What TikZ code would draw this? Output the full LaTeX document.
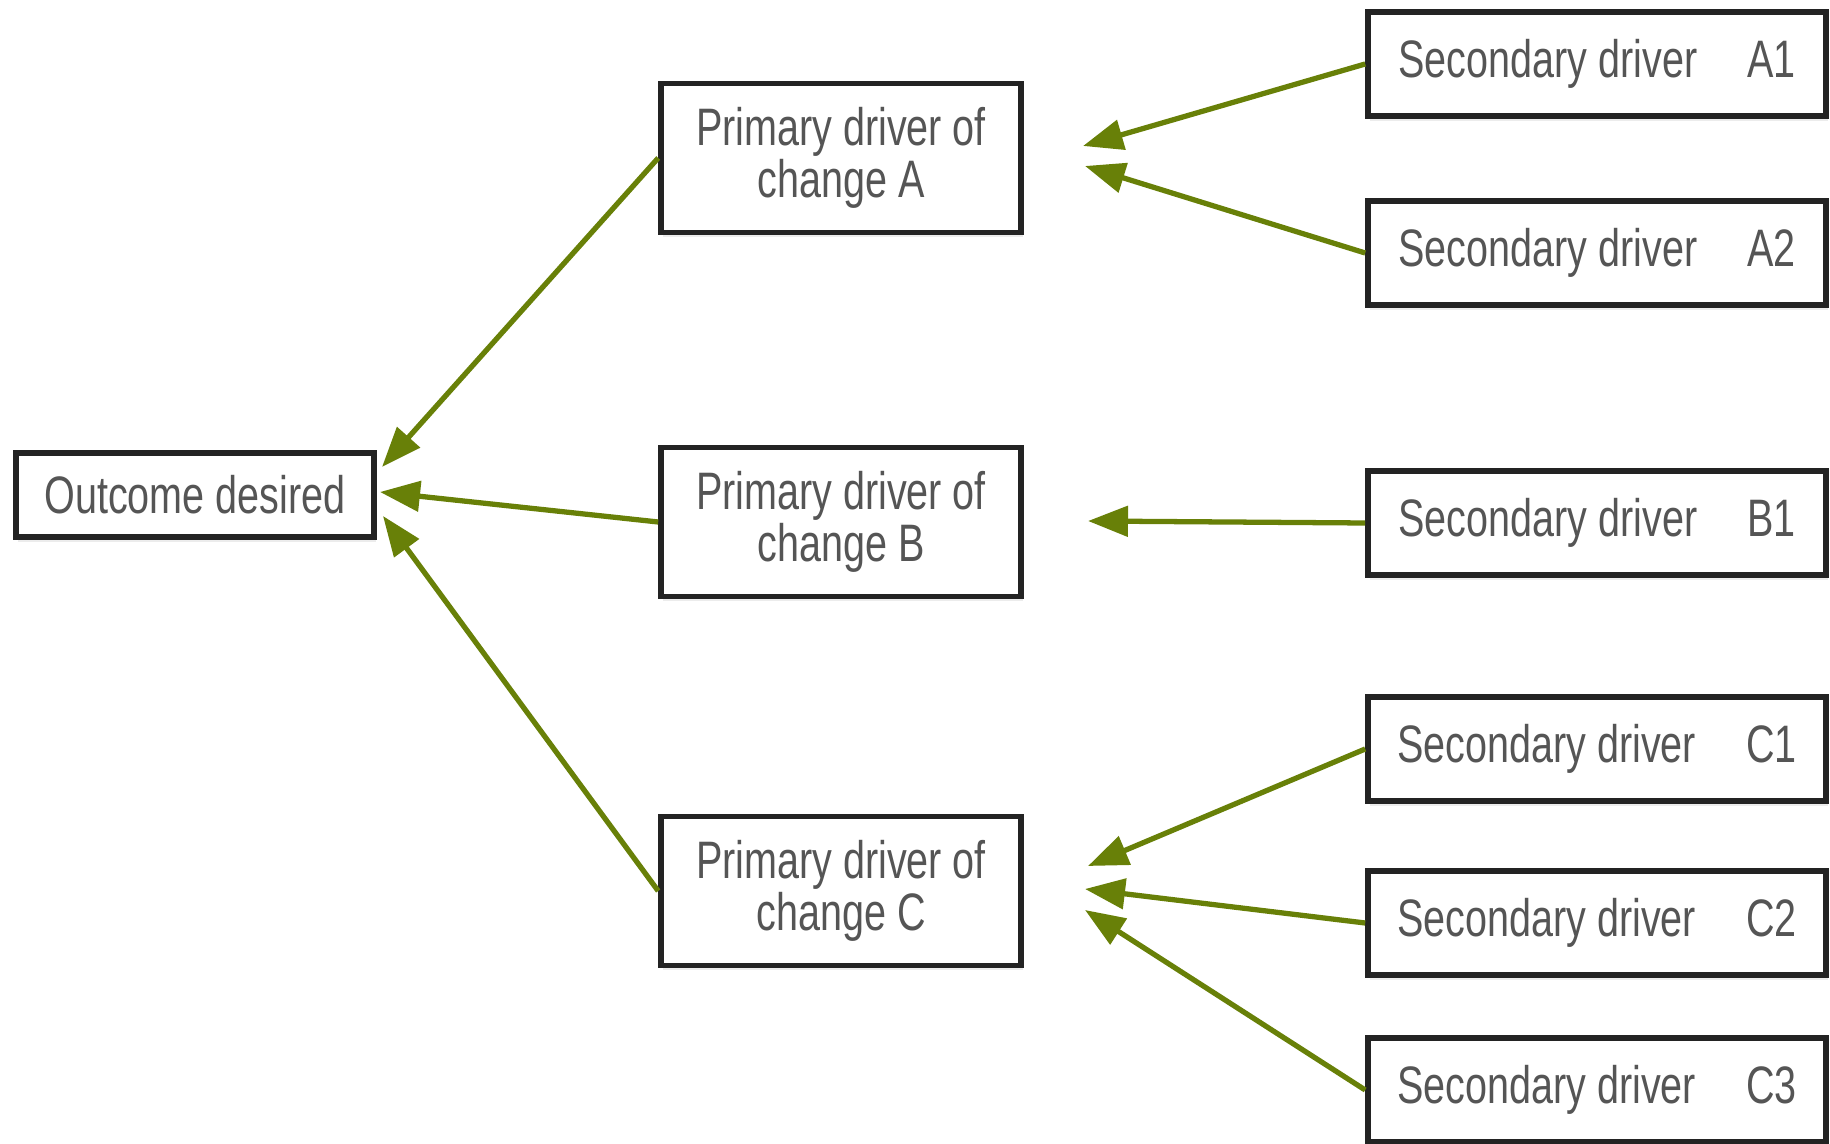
\documentclass[tikz,border=0pt]{standalone}
\usepackage{fontspec}
\setmainfont[FakeStretch=0.75]{Liberation Sans}
\usepackage{xcolor}
\usepackage{tikz}
\usetikzlibrary{arrows.meta,positioning,shadows}
\definecolor{drgreen}{RGB}{104,128,8}
\definecolor{drtext}{RGB}{85,85,85}
\definecolor{drline}{RGB}{35,35,35}
\tikzset{
  drnode/.style={draw=drline, line width=1.6pt, fill=white, align=center,
    inner sep=2pt, text=drtext, font=\fontsize{15}{14.8}\selectfont,
    drop shadow={shadow xshift=0.02cm, shadow yshift=-0.05cm, opacity=0.15}},
  drout/.style={drnode, minimum width=3.58cm, minimum height=0.84cm},
  drprim/.style={drnode, minimum width=3.60cm, minimum height=1.49cm},
  drsec/.style={drnode, minimum width=4.58cm, minimum height=1.04cm},
  drarrow/.style={-{Triangle[length=4mm, width=3mm]}, line width=1.5pt, draw=drgreen}
}

\begin{document}
\begin{tikzpicture}
  \useasboundingbox (0,0) rectangle (18.30cm,-11.44cm);
  \node[drout] (out) at (1.95cm,-4.95cm) {Outcome desired};
  \node[drprim] (pA) at (8.41cm,-1.58cm) {Primary driver of\\change A};
  \node[drprim] (pB) at (8.41cm,-5.22cm) {Primary driver of\\change B};
  \node[drprim] (pC) at (8.41cm,-8.91cm) {Primary driver of\\change C};
  \node[drsec] (sA1) at (15.97cm,-0.64cm) {Secondary driver\hspace{0.5cm}A1};
  \node[drsec] (sA2) at (15.97cm,-2.53cm) {Secondary driver\hspace{0.5cm}A2};
  \node[drsec] (sB1) at (15.97cm,-5.23cm) {Secondary driver\hspace{0.5cm}B1};
  \node[drsec] (sC1) at (15.97cm,-7.49cm) {Secondary driver\hspace{0.5cm}C1};
  \node[drsec] (sC2) at (15.97cm,-9.23cm) {Secondary driver\hspace{0.5cm}C2};
  \node[drsec] (sC3) at (15.97cm,-10.90cm) {Secondary driver\hspace{0.5cm}C3};
  % arrow heads stop short of the primary boxes
  \coordinate (hA1) at (10.83cm,-1.46cm);
  \coordinate (hA2) at (10.85cm,-1.66cm);
  \coordinate (hB1) at (10.88cm,-5.21cm);
  \coordinate (hC1) at (10.88cm,-8.66cm);
  \coordinate (hC2) at (10.85cm,-8.89cm);
  \coordinate (hC3) at (10.85cm,-9.10cm);
  \coordinate (hoA) at (3.82cm,-4.67cm);
  \coordinate (hoB) at (3.80cm,-4.92cm);
  \coordinate (hoC) at (3.83cm,-5.16cm);
  \draw[drarrow] (sA1.west) -- (hA1);
  \draw[drarrow] (sA2.west) -- (hA2);
  \draw[drarrow] (sB1.west) -- (hB1);
  \draw[drarrow] (sC1.west) -- (hC1);
  \draw[drarrow] (sC2.west) -- (hC2);
  \draw[drarrow] (sC3.west) -- (hC3);
  \draw[drarrow] (pA.west) -- (hoA);
  \draw[drarrow] (pB.west) -- (hoB);
  \draw[drarrow] (pC.west) -- (hoC);
\end{tikzpicture}
\end{document}
